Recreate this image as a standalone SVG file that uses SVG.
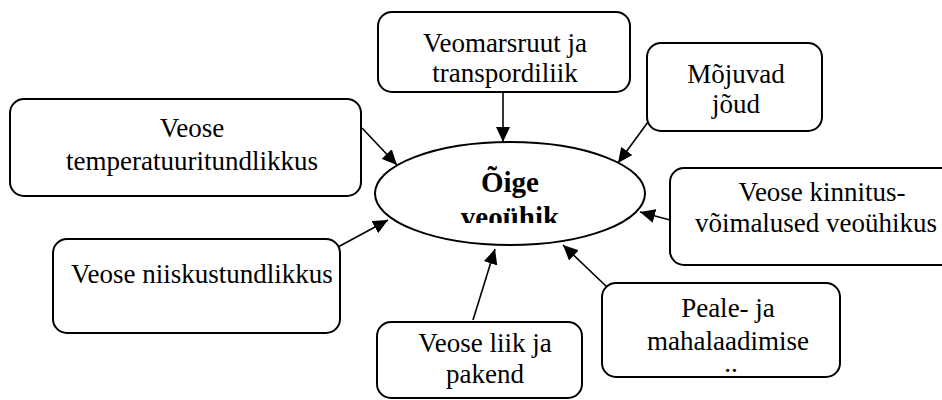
<svg xmlns="http://www.w3.org/2000/svg" width="942" height="400" viewBox="0 0 942 400">
<defs>
<style>
.box{fill:#fff;stroke:#000;stroke-width:2}
.c{stroke:#000;stroke-width:1.6;fill:none;marker-end:url(#ah)}
</style>
<marker id="ah" markerUnits="userSpaceOnUse" markerWidth="15" markerHeight="14" refX="15" refY="7" orient="auto">
<path d="M0,0 L15,7 L0,14 z" fill="#000"/>
</marker>
<clipPath id="clipE"><rect x="380" y="140" width="260" height="83"/></clipPath>
</defs>
<rect width="942" height="400" fill="#fff"/>
<g id="connectors">
<line class="c" x1="503" y1="92" x2="503" y2="142"/>
<line class="c" x1="362" y1="128" x2="397" y2="165"/>
<line class="c" x1="648" y1="122" x2="618" y2="163"/>
<line class="c" x1="670" y1="220" x2="640" y2="212"/>
<line class="c" x1="607" y1="287" x2="563" y2="245"/>
<line class="c" x1="338" y1="247" x2="388" y2="220"/>
<line class="c" x1="473" y1="320" x2="495" y2="249"/>
</g>
<g id="center">
<ellipse cx="510" cy="193.5" rx="135" ry="51.5" fill="#fff" stroke="#000" stroke-width="2"/>
<g clip-path="url(#clipE)" font-family="Liberation Serif" font-size="29" font-weight="bold" text-anchor="middle">
<text x="510" y="192">Õige</text>
<text x="510" y="227">veoühik</text>
</g>
</g>
<g id="route">
<rect class="box" x="378" y="12" width="252" height="80" rx="14"/>
<g font-family="Liberation Serif" font-size="27" text-anchor="middle">
<text x="505" y="52">Veomarsruut ja</text>
<text x="505" y="82">transpordiliik</text>
</g>
</g>
<g id="forces">
<rect class="box" x="647" y="43" width="175" height="88" rx="14"/>
<g font-family="Liberation Serif" font-size="27" text-anchor="middle">
<text x="736" y="83">Mõjuvad</text>
<text x="736" y="113">jõud</text>
</g>
</g>
<g id="fastening">
<rect class="box" x="670" y="168" width="300" height="97" rx="14"/>
<g font-family="Liberation Serif" font-size="27" text-anchor="middle">
<text x="822" y="201">Veose kinnitus-</text>
<text x="816" y="232">võimalused veoühikus</text>
</g>
</g>
<g id="temperature">
<rect class="box" x="10" y="99" width="351" height="97" rx="14"/>
<g font-family="Liberation Serif" font-size="27" text-anchor="middle">
<text x="192" y="137">Veose</text>
<text x="192" y="170">temperatuuritundlikkus</text>
</g>
</g>
<g id="humidity">
<rect class="box" x="53" y="239" width="287" height="94" rx="14"/>
<text x="202" y="283" font-family="Liberation Serif" font-size="27" text-anchor="middle">Veose niiskustundlikkus</text>
</g>
<g id="cargotype">
<rect class="box" x="377" y="322" width="205" height="76" rx="14"/>
<g font-family="Liberation Serif" font-size="27" text-anchor="middle">
<text x="485" y="352">Veose liik ja</text>
<text x="485" y="383">pakend</text>
</g>
</g>
<g id="loading">
<rect class="box" x="602" y="283" width="238" height="94" rx="14"/>
<g font-family="Liberation Serif" font-size="27" text-anchor="middle">
<text x="728" y="317">Peale- ja</text>
<text x="728" y="350">mahalaadimise</text>
<text x="731" y="372">..</text>
</g>
</g>
</svg>
